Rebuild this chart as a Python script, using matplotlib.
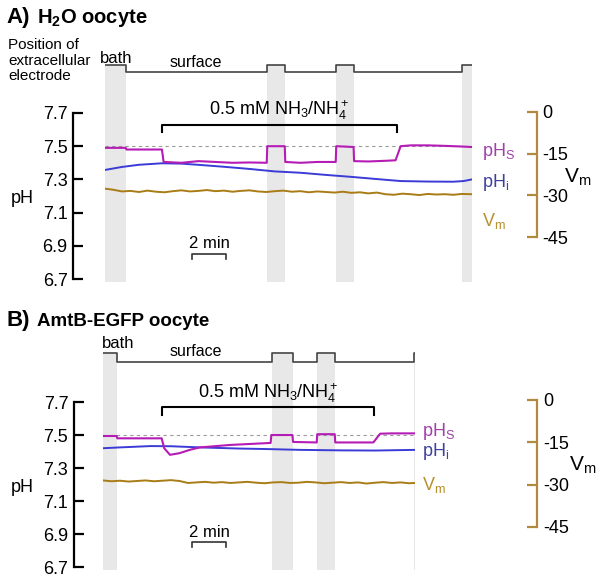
import matplotlib
matplotlib.use('Agg')
from matplotlib import pyplot as plt

plt.rcParams['font.family'] = ['Liberation Sans', 'DejaVu Sans']
plt.rcParams['mathtext.fontset'] = 'custom'
plt.rcParams['mathtext.rm'] = 'Liberation Sans'
plt.rcParams['mathtext.it'] = 'Liberation Sans:italic'
plt.rcParams['mathtext.bf'] = 'Liberation Sans:bold'

# ---- data, time in min from the start of each record ----
PH_TICKS = [6.7, 6.9, 7.1, 7.3, 7.5, 7.7]
VM_TICKS = [0, -15, -30, -45]
PH_REF = 7.5

# A) H2O oocyte
A_T_END = 21.6
A_BATH = [(0, 1.24), (9.53, 10.59), (13.59, 14.65), (21.0, 21.6)]   # electrode in bath
A_NH4 = (3.35, 17.18)
A_PHS_T = [0, 1.22, 1.26, 3.35, 3.45, 4.5, 5.5, 6.5, 7.5, 8.5, 9.52, 9.55, 10.58, 10.61, 11.5,
           12.5, 13.58, 13.61, 14.63, 14.66, 15.5, 16.5, 17.1, 17.4, 18, 19, 20, 21, 21.6]
A_PHS = [7.49, 7.49, 7.48, 7.48, 7.405, 7.40, 7.41, 7.405, 7.40, 7.402, 7.40, 7.50, 7.50, 7.405, 7.40,
         7.405, 7.405, 7.50, 7.495, 7.41, 7.408, 7.412, 7.415, 7.50, 7.505, 7.505, 7.502, 7.498, 7.495]
A_PHI_T = [0, 1, 2, 3.35, 4.5, 5.6, 7, 8.5, 10, 11.5, 13, 14.4, 16, 17.4, 19, 20.5, 21.1, 21.6]
A_PHI = [7.357, 7.375, 7.388, 7.397, 7.395, 7.387, 7.376, 7.363, 7.348, 7.34, 7.327, 7.316,
         7.302, 7.29, 7.287, 7.286, 7.29, 7.30]
A_VM_T = [0, 0.5, 1, 1.5, 2, 2.5, 3, 3.5, 4, 4.5, 5, 5.5, 6, 6.5, 7, 7.5, 8, 8.5, 9, 9.5, 10, 10.5,
          11, 11.5, 12, 12.5, 13, 13.5, 14, 14.5, 15, 15.5, 16, 16.5, 17, 17.5, 18, 18.5, 19, 19.5,
          20, 20.5, 21, 21.6]
A_VM = [-27.6, -28.0, -28.6, -28.4, -28.8, -28.3, -28.7, -28.9, -28.5, -28.2, -28.6, -28.4, -28.1,
        -28.5, -28.3, -28.7, -28.4, -28.2, -28.6, -28.8, -28.5, -28.3, -28.7, -28.5, -28.9, -28.6,
        -28.8, -29.0, -28.7, -29.1, -28.9, -29.3, -29.0, -29.6, -29.8, -29.4, -29.6, -29.9, -29.5,
        -29.7, -29.6, -29.8, -29.5, -29.6]

# B) AmtB-EGFP oocyte
B_T_END = 18.35
B_BATH = [(0, 0.82), (9.94, 11.18), (12.59, 13.65), (18.28, 18.35)]
B_NH4 = (3.47, 15.94)
B_PHS_T = [0, 0.8, 0.84, 3.45, 3.6, 3.94, 4.5, 5.1, 5.7, 7.5, 9.86, 9.9, 11.14, 11.18, 12.57,
           12.6, 13.63, 13.66, 15.9, 16.3, 17, 18.35]
B_PHS = [7.494, 7.494, 7.48, 7.48, 7.42, 7.38, 7.39, 7.41, 7.425, 7.44, 7.452, 7.50, 7.50, 7.458,
         7.455, 7.505, 7.505, 7.455, 7.455, 7.508, 7.51, 7.51]
B_PHI_T = [0, 1, 2.8, 4, 5.7, 8, 9.6, 11.6, 14, 16, 18.35]
B_PHI = [7.42, 7.425, 7.433, 7.432, 7.425, 7.418, 7.415, 7.41, 7.407, 7.406, 7.41]
B_VM_T = [0, 0.5, 1, 1.5, 2, 2.5, 3, 3.5, 4, 4.5, 5, 5.5, 6, 6.5, 7, 7.5, 8, 8.5, 9, 9.5, 10, 10.5,
          11, 11.5, 12, 12.5, 13, 13.5, 14, 14.5, 15, 15.5, 16, 16.5, 17, 17.5, 18, 18.35]
B_VM = [-28.5, -28.8, -28.6, -28.9, -28.7, -28.5, -28.8, -28.6, -28.4, -28.7, -29.4, -29.2, -29.0,
        -29.3, -29.1, -29.4, -29.2, -29.0, -29.3, -29.5, -29.2, -29.1, -29.4, -29.3, -29.0, -29.2,
        -29.5, -29.3, -29.1, -29.4, -29.2, -29.6, -29.3, -29.1, -29.4, -29.2, -29.5, -29.4]

MAGENTA = '#b51cb5'
BLUE = '#3b3bd8'
GOLD = '#a97c16'
GOLD_AX = '#b08a3e'
BAND = '#e8e8e8'


def px(l, t, r, b):
    # pixel box -> figure fraction (600 x 580 figure)
    return [l / 600, 1 - b / 580, (r - l) / 600, (b - t) / 580]


def electrode_trace(bath, t_end):
    tt, vv = [], []
    for a, b in bath:
        if a > 0:
            tt += [a, a]
            vv += [0, 1]
        else:
            tt += [a]
            vv += [1]
        if b < t_end:
            tt += [b, b]
            vv += [1, 0]
        else:
            tt += [b]
            vv += [1]
    return tt, vv


def draw_panel(fig, lay, t_end, bath, nh4, phs_t, phs, phi_t, phi, vm_t, vm):
    ax = fig.add_axes(px(*lay['box']))
    ax.set_xlim(0, t_end)
    ax.set_ylim(*lay['ph_lim'])
    ax.patch.set_visible(False)
    for a, b in bath:
        ax.axvspan(a, b, color=BAND, lw=0, zorder=0)
    ax.plot([0, t_end], [PH_REF, PH_REF], ls=(0, (3, 3)), color='#9a9a9a', lw=0.8, zorder=1)
    ax.plot(phi_t, phi, color=BLUE, lw=1.4, zorder=2)
    ax.plot(phs_t, phs, color=MAGENTA, lw=1.5, zorder=3)

    for s in ['top', 'right', 'bottom']:
        ax.spines[s].set_visible(False)
    ax.spines['left'].set_position(('outward', lay['left_off']))
    ax.spines['left'].set_bounds(PH_TICKS[0], PH_TICKS[-1])
    ax.spines['left'].set_linewidth(1.6)
    ax.set_yticks(PH_TICKS)
    ax.set_yticklabels(['%.1f' % v for v in PH_TICKS])
    ax.tick_params(axis='y', direction='in', length=7, width=1.6, labelsize=13, pad=4)
    ax.set_xticks([])
    ax.set_ylabel('pH', rotation=0, fontsize=13, ha='center', va='center')
    ax.yaxis.set_label_coords(*lay['ph_label'])

    # NH3/NH4+ bracket
    y0, y1 = lay['br']
    ax.plot([nh4[0], nh4[0], nh4[1], nh4[1]], [y1, y0, y0, y1], color='k', lw=1.5, zorder=4)
    ax.text((nh4[0] + nh4[1]) / 2, lay['br_text'], r'0.5 mM NH$_3$/NH$_4^+$', fontsize=13,
            ha='center', va='baseline')

    # 2 min scale bar
    sb = lay['sb_t']
    s0, s1 = lay['sb']
    ax.plot([sb, sb, sb + 2, sb + 2], [s1, s0, s0, s1], color='#333333', lw=1.2)
    ax.text(sb + 1, lay['sb_text'], '2 min', fontsize=12, ha='center', va='baseline')

    # trace names
    ax.annotate(r'pH$_\mathrm{S}$', (phs_t[-1], phs[-1]), xytext=(lay['lab_dx'], lay['lab_dy'][0]),
                textcoords='offset points', color='#a040a8', fontsize=13, va='center')
    ax.annotate(r'pH$_\mathrm{i}$', (phi_t[-1], phi[-1]), xytext=(lay['lab_dx'], lay['lab_dy'][1]),
                textcoords='offset points', color='#40409e', fontsize=13, va='center')

    # membrane potential on its own scale
    ax2 = ax.twinx()
    ax2.set_ylim(*lay['vm_lim'])
    ax2.plot(vm_t, vm, color=GOLD, lw=1.4)
    ax2.annotate(r'V$_\mathrm{m}$', (vm_t[-1], vm[-1]), xytext=(lay['lab_dx'], lay['lab_dy'][2]),
                 textcoords='offset points', color='#b8902c', fontsize=13, va='center')
    for s in ['top', 'left', 'bottom']:
        ax2.spines[s].set_visible(False)
    ax2.spines['right'].set_position(('outward', lay['right_off']))
    ax2.spines['right'].set_bounds(VM_TICKS[-1], VM_TICKS[0])
    ax2.spines['right'].set_color(GOLD_AX)
    ax2.spines['right'].set_linewidth(1.6)
    ax2.set_yticks(VM_TICKS)
    ax2.set_yticklabels([str(v) for v in VM_TICKS])
    ax2.tick_params(axis='y', direction='in', length=7, width=1.6, color=GOLD_AX, labelsize=13, pad=4)
    ax2.set_ylabel(r'V$_\mathrm{m}$', rotation=0, fontsize=15, ha='center', va='center')
    ax2.yaxis.set_label_coords(*lay['vm_label'])

    # position of the extracellular electrode
    axp = fig.add_axes(px(*lay['pos_box']), sharex=ax)
    axp.set_ylim(*lay['pos_lim'])
    axp.axis('off')
    tt, vv = electrode_trace(bath, t_end)
    axp.plot(tt, vv, color='#444444', lw=1.2)
    axp.text(lay['bath_xy'][0], lay['bath_xy'][1], 'bath', fontsize=12, ha='left', va='baseline')
    axp.text(lay['surf_xy'][0], lay['surf_xy'][1], 'surface', fontsize=11.5, ha='center', va='baseline')
    return ax


LAY_A = dict(box=(105, 65, 472, 282), ph_lim=(6.682, 7.989), vm_lim=(-61.2, 16.92),
             left_off=23, right_off=46.5, ph_label=(-0.226, 0.387), vm_label=(1.289, 0.484),
             br=(7.628, 7.586), br_text=7.688, sb_t=5.12, sb=(6.851, 6.82), sb_text=6.887,
             lab_dx=7, lab_dy=(-3, -2, -19),
             pos_box=(105, 50, 472, 80), pos_lim=(-1.14, 3.14), bath_xy=(-0.29, 1.29),
             surf_xy=(5.35, 0.71))
LAY_B = dict(box=(103, 354, 415, 570), ph_lim=(6.682, 7.991), vm_lim=(-60.24, 16.3),
             left_off=21, right_off=88, ph_label=(-0.26, 0.38), vm_label=(1.538, 0.486),
             br=(7.67, 7.621), br_text=7.724, sb_t=5.24, sb=(6.852, 6.821), sb_text=6.882,
             lab_dx=5, lab_dy=(1.5, -1, -1.5),
             pos_box=(103, 338, 415, 370), pos_lim=(-0.889, 2.667), bath_xy=(-0.06, 1.56),
             surf_xy=(5.47, 0.67))

fig = plt.figure(figsize=(6, 5.8), dpi=100)

draw_panel(fig, LAY_A, A_T_END, A_BATH, A_NH4, A_PHS_T, A_PHS, A_PHI_T, A_PHI, A_VM_T, A_VM)
draw_panel(fig, LAY_B, B_T_END, B_BATH, B_NH4, B_PHS_T, B_PHS, B_PHI_T, B_PHI, B_VM_T, B_VM)

# panel titles
fig.text(6 / 600, 1 - 23 / 580, 'A)', fontsize=16, fontweight='bold', va='baseline')
fig.text(37 / 600, 1 - 23 / 580, r'H$_\mathbf{2}$O oocyte', fontsize=14.5, fontweight='bold',
         va='baseline')
fig.text(6 / 600, 1 - 326 / 580, 'B)', fontsize=16, fontweight='bold', va='baseline')
fig.text(37 / 600, 1 - 326 / 580, 'AmtB-EGFP oocyte', fontsize=13.5, fontweight='bold',
         va='baseline')
fig.text(8 / 600, 1 - 38 / 580, 'Position of\nextracellular\nelectrode', fontsize=11,
         va='top', ha='left', linespacing=1.15)

fig.savefig('out.png', dpi=100)
